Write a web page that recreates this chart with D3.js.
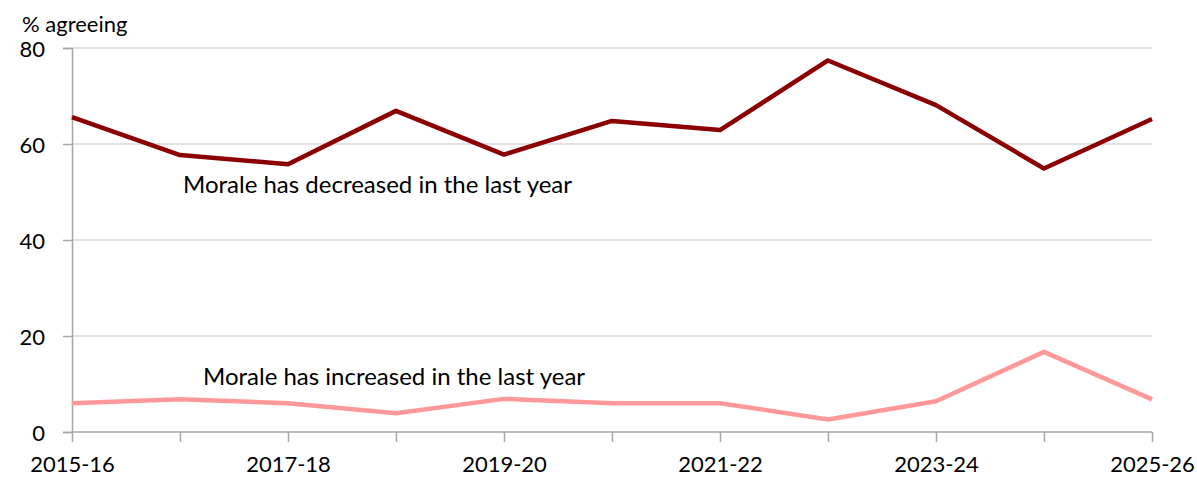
<!DOCTYPE html>
<html><head><meta charset="utf-8">
<script src="https://cdn.jsdelivr.net/npm/d3@7"></script>
<style>
html,body{margin:0;padding:0;background:#fff;}
svg{display:block;font-family:Lato, "Open Sans", sans-serif;}
</style></head>
<body><svg id="c" width="1197" height="478"></svg>
<script>
const categories = ["2015-16","2016-17","2017-18","2018-19","2019-20","2020-21","2021-22","2022-23","2023-24","2024-25","2025-26"];
const decreased = [65.6, 57.7, 55.8, 66.9, 57.8, 64.8, 62.9, 77.4, 68.1, 54.9, 65.2];
const increased = [6.0, 6.8, 6.0, 3.9, 6.9, 6.0, 6.0, 2.6, 6.4, 16.7, 6.8];
const yTicks = [0, 20, 40, 60, 80];
const xLabels = ["2015-16","2017-18","2019-20","2021-22","2023-24","2025-26"];

const svg = d3.select("#c");
const x = d3.scalePoint().domain(categories).range([72, 1152]);
const y = d3.scaleLinear().domain([0, 80]).range([432, 48]);

// gridlines
svg.append("g").selectAll("line").data(yTicks.filter(d => d > 0)).join("line")
  .attr("x1", 72).attr("x2", 1152)
  .attr("y1", d => y(d)).attr("y2", d => y(d))
  .attr("stroke", "#d9d9d9").attr("stroke-width", 1.5);

// y axis
const yAxis = svg.append("g").attr("transform", "translate(72,0)")
  .call(d3.axisLeft(y).tickValues(yTicks).tickSize(9).tickPadding(18));
yAxis.select(".domain").attr("stroke", "#a6a6a6").attr("stroke-width", 1.5);
yAxis.selectAll(".tick line").attr("stroke", "#a6a6a6").attr("stroke-width", 1.5);
yAxis.selectAll(".tick text").attr("font-size", 22).attr("fill", "#000")
  .attr("font-family", "Lato, sans-serif").attr("dy", "0.4em");

// x axis
const xAxis = svg.append("g").attr("transform", "translate(0,432)")
  .call(d3.axisBottom(x).tickSize(10).tickPadding(14)
    .tickFormat(d => xLabels.includes(d) ? d : ""));
xAxis.select(".domain").attr("stroke", "#a6a6a6").attr("stroke-width", 1.5).attr("d", "M72,0H1152");
xAxis.selectAll(".tick line").attr("stroke", "#a6a6a6").attr("stroke-width", 1.5);
xAxis.selectAll(".tick text").attr("font-size", 22).attr("fill", "#000")
  .attr("font-family", "Lato, sans-serif");

// lines
const line = d3.line().x((d, i) => x(categories[i])).y(d => y(d));
svg.append("path").datum(decreased).attr("d", line)
  .attr("fill", "none").attr("stroke", "#8b0000").attr("stroke-width", 4.5).attr("stroke-linejoin", "round");
svg.append("path").datum(increased).attr("d", line)
  .attr("fill", "none").attr("stroke", "#ff9999").attr("stroke-width", 4.5).attr("stroke-linejoin", "round");

// labels
svg.append("text").attr("x", 22).attr("y", 32).attr("font-size", 22).attr("fill", "#000").text("% agreeing");
svg.append("text").attr("x", 183).attr("y", 193).attr("font-size", 24).attr("fill", "#000")
  .text("Morale has decreased in the last year");
svg.append("text").attr("x", 203).attr("y", 385).attr("font-size", 24).attr("fill", "#000")
  .text("Morale has increased in the last year");
</script></body></html>
